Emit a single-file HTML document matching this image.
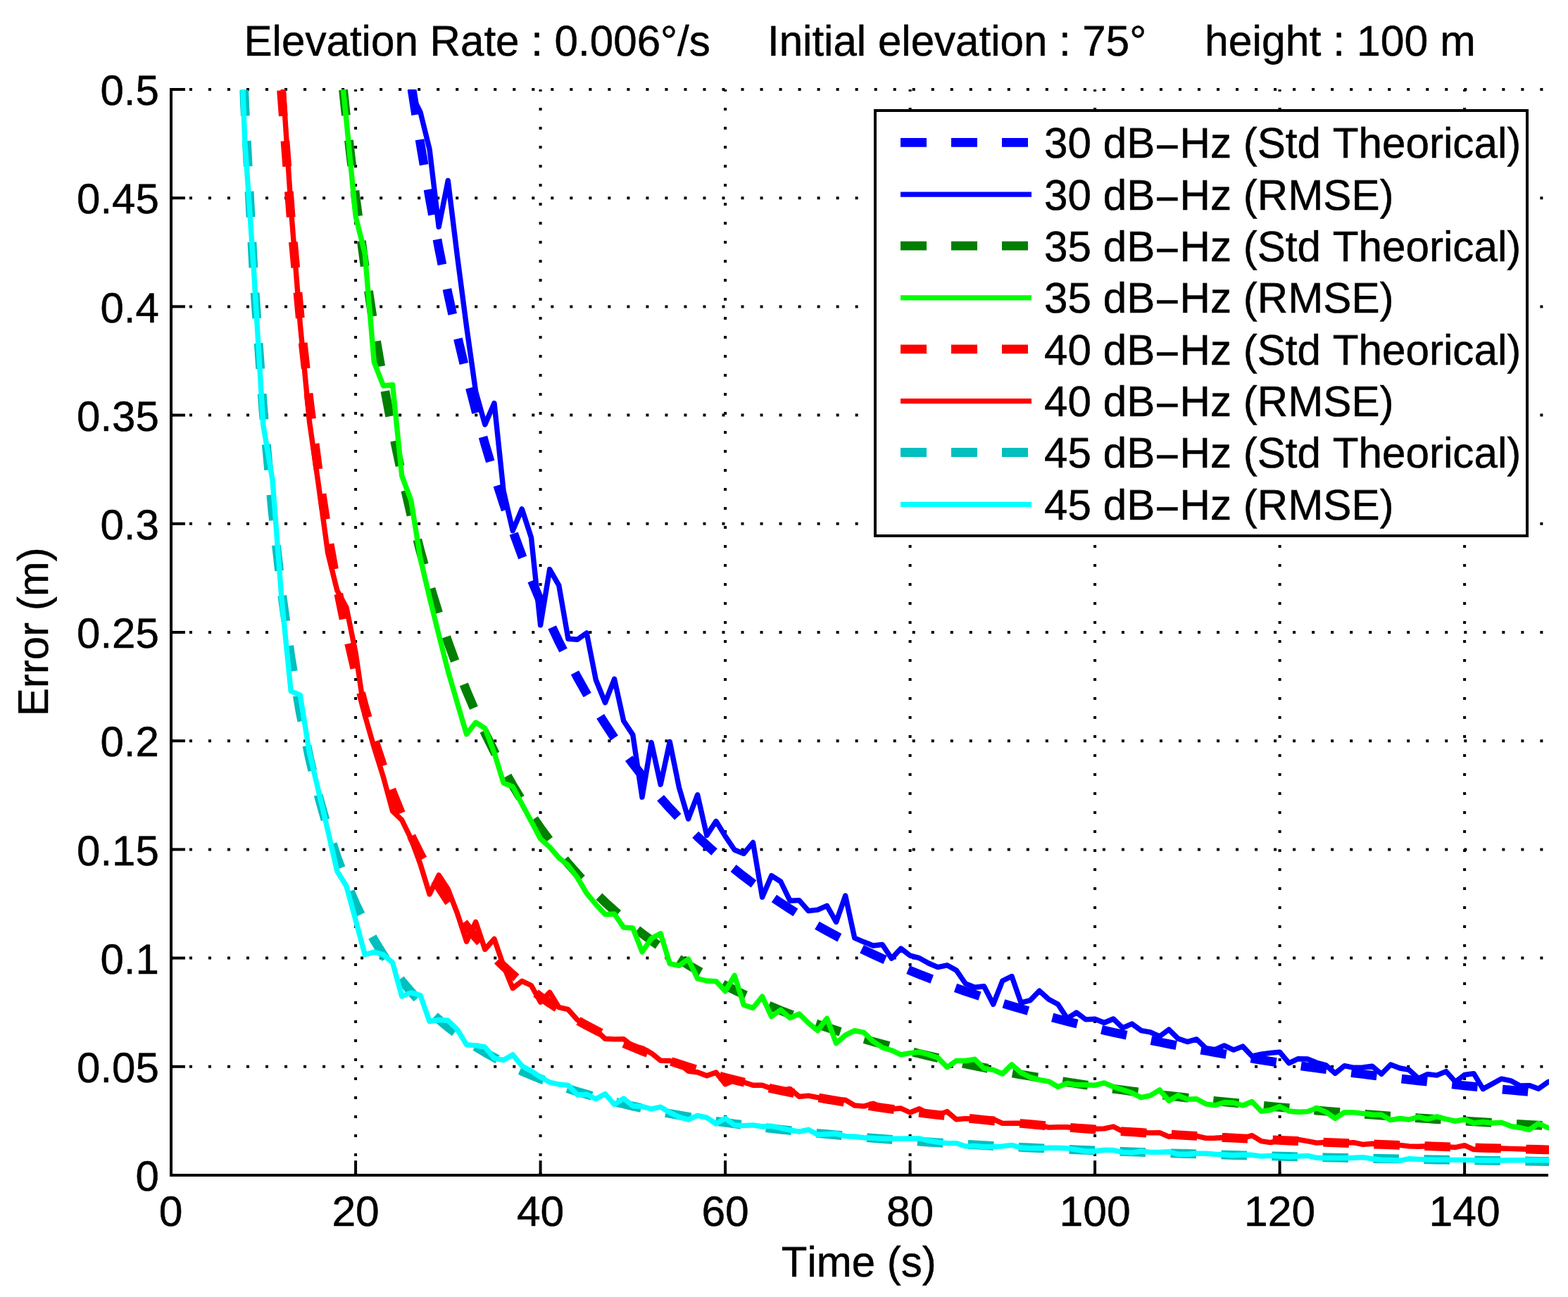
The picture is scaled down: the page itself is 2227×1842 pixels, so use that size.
<!DOCTYPE html>
<html lang="en"><head><meta charset="utf-8">
<title>Elevation Rate : 0.006°/s  Initial elevation : 75°  height : 100 m</title>
<style>
html,body{margin:0;padding:0;background:#fff;}
body{width:2227px;height:1842px;overflow:hidden;}
svg{display:block;}
text{font-family:"Liberation Sans", "DejaVu Sans", sans-serif;font-size:60.00px;fill:#000;stroke:#000;stroke-width:0.5px;stroke-linejoin:round;font-kerning:none;font-variant-ligatures:none;text-rendering:geometricPrecision;}
.ax{stroke:#000;stroke-width:4;fill:none;stroke-linecap:butt;}
.grid{stroke:#000;stroke-width:4;fill:none;stroke-dasharray:4 23;}
.hgrid{stroke-dasharray:4 23.02;}
.th{fill:none;stroke-width:12.8;stroke-dasharray:36.5 35.5;stroke-linejoin:round;}
.rm{fill:none;stroke-width:7.4;stroke-linejoin:round;}
</style></head><body>
<svg width="2227" height="1842" viewBox="0 0 2227 1842">
<rect x="0" y="0" width="2227" height="1842" fill="#fff"/>
<defs><clipPath id="plotclip"><rect x="243.0" y="127.0" width="1957.0" height="1542.0"/></clipPath></defs>
<g class="grid">
<line x1="505.1" y1="1669.0" x2="505.1" y2="127.0" stroke-dashoffset="0.0"/>
<line x1="767.6" y1="1669.0" x2="767.6" y2="127.0" stroke-dashoffset="0.0"/>
<line x1="1030.1" y1="1669.0" x2="1030.1" y2="127.0" stroke-dashoffset="0.0"/>
<line x1="1292.6" y1="1669.0" x2="1292.6" y2="127.0" stroke-dashoffset="0.0"/>
<line x1="1555.1" y1="1669.0" x2="1555.1" y2="127.0" stroke-dashoffset="0.0"/>
<line x1="1817.6" y1="1669.0" x2="1817.6" y2="127.0" stroke-dashoffset="0.0"/>
<line x1="2080.1" y1="1669.0" x2="2080.1" y2="127.0" stroke-dashoffset="0.0"/>
<line class="hgrid" x1="243.0" y1="1514.8" x2="2199.0" y2="1514.8" stroke-dashoffset="1.06"/>
<line class="hgrid" x1="243.0" y1="1360.6" x2="2199.0" y2="1360.6" stroke-dashoffset="1.06"/>
<line class="hgrid" x1="243.0" y1="1206.4" x2="2199.0" y2="1206.4" stroke-dashoffset="1.06"/>
<line class="hgrid" x1="243.0" y1="1052.2" x2="2199.0" y2="1052.2" stroke-dashoffset="1.06"/>
<line class="hgrid" x1="243.0" y1="898.0" x2="2199.0" y2="898.0" stroke-dashoffset="1.06"/>
<line class="hgrid" x1="243.0" y1="743.8" x2="2199.0" y2="743.8" stroke-dashoffset="1.06"/>
<line class="hgrid" x1="243.0" y1="589.6" x2="2199.0" y2="589.6" stroke-dashoffset="1.06"/>
<line class="hgrid" x1="243.0" y1="435.4" x2="2199.0" y2="435.4" stroke-dashoffset="1.06"/>
<line class="hgrid" x1="243.0" y1="281.2" x2="2199.0" y2="281.2" stroke-dashoffset="1.06"/>
<line class="hgrid" x1="243.0" y1="127.0" x2="2199.0" y2="127.0" stroke-dashoffset="1.06"/>
</g>
<g class="ax">
<path d="M243.0,125.0 L243.0,1669.0 L2199.0,1669.0"/>
<line x1="505.1" y1="1669.0" x2="505.1" y2="1648.2"/>
<line x1="767.6" y1="1669.0" x2="767.6" y2="1648.2"/>
<line x1="1030.1" y1="1669.0" x2="1030.1" y2="1648.2"/>
<line x1="1292.6" y1="1669.0" x2="1292.6" y2="1648.2"/>
<line x1="1555.1" y1="1669.0" x2="1555.1" y2="1648.2"/>
<line x1="1817.6" y1="1669.0" x2="1817.6" y2="1648.2"/>
<line x1="2080.1" y1="1669.0" x2="2080.1" y2="1648.2"/>
<line x1="243.0" y1="1514.8" x2="263.0" y2="1514.8"/>
<line x1="243.0" y1="1360.6" x2="263.0" y2="1360.6"/>
<line x1="243.0" y1="1206.4" x2="263.0" y2="1206.4"/>
<line x1="243.0" y1="1052.2" x2="263.0" y2="1052.2"/>
<line x1="243.0" y1="898.0" x2="263.0" y2="898.0"/>
<line x1="243.0" y1="743.8" x2="263.0" y2="743.8"/>
<line x1="243.0" y1="589.6" x2="263.0" y2="589.6"/>
<line x1="243.0" y1="435.4" x2="263.0" y2="435.4"/>
<line x1="243.0" y1="281.2" x2="263.0" y2="281.2"/>
<line x1="243.0" y1="127.0" x2="263.0" y2="127.0"/>
</g>
<g clip-path="url(#plotclip)">
<path class="th" stroke="#0000ff" stroke-dashoffset="0.0" d="M585.1,127.0 L597.0,203.8 L610.1,281.2 L623.2,352.1 L636.3,417.1 L649.5,477.0 L662.6,532.1 L675.7,583.2 L688.8,630.5 L702.0,674.5 L715.1,715.4 L728.2,753.6 L741.3,789.3 L754.5,822.7 L767.6,854.1 L780.7,883.6 L793.8,911.3 L807.0,937.4 L820.1,962.0 L833.2,985.3 L846.3,1007.3 L859.5,1028.2 L872.6,1048.0 L885.7,1066.8 L898.8,1084.6 L912.0,1101.6 L925.1,1117.8 L938.2,1133.2 L951.3,1147.9 L964.5,1161.9 L977.6,1175.3 L990.7,1188.2 L1003.8,1200.4 L1017.0,1212.2 L1030.1,1223.5 L1043.2,1234.3 L1056.3,1244.7 L1069.5,1254.6 L1082.6,1264.2 L1095.7,1273.4 L1108.8,1282.3 L1122.0,1290.9 L1135.1,1299.1 L1148.2,1307.0 L1161.3,1314.7 L1174.5,1322.1 L1187.6,1329.2 L1200.7,1336.1 L1213.8,1342.7 L1227.0,1349.2 L1240.1,1355.4 L1253.2,1361.4 L1266.3,1367.2 L1279.5,1372.9 L1292.6,1378.4 L1305.7,1383.7 L1318.8,1388.8 L1332.0,1393.8 L1345.1,1398.6 L1358.2,1403.3 L1371.3,1407.9 L1384.5,1412.3 L1397.6,1416.6 L1410.7,1420.8 L1423.8,1424.9 L1437.0,1428.9 L1450.1,1432.7 L1463.2,1436.5 L1476.3,1440.1 L1489.5,1443.7 L1502.6,1447.1 L1515.7,1450.5 L1528.8,1453.8 L1542.0,1457.0 L1555.1,1460.1 L1568.2,1463.2 L1581.3,1466.2 L1594.5,1469.1 L1607.6,1471.9 L1620.7,1474.7 L1633.8,1477.4 L1647.0,1480.0 L1660.1,1482.6 L1673.2,1485.1 L1686.3,1487.6 L1699.5,1490.0 L1712.6,1492.3 L1725.7,1494.6 L1738.8,1496.9 L1752.0,1499.1 L1765.1,1501.2 L1778.2,1503.3 L1791.3,1505.4 L1804.5,1507.4 L1817.6,1509.4 L1830.7,1511.4 L1843.8,1513.3 L1857.0,1515.1 L1870.1,1516.9 L1883.2,1518.7 L1896.3,1520.5 L1909.5,1522.2 L1922.6,1523.9 L1935.7,1525.5 L1948.8,1527.2 L1962.0,1528.8 L1975.1,1530.3 L1988.2,1531.9 L2001.3,1533.4 L2014.5,1534.8 L2027.6,1536.3 L2040.7,1537.7 L2053.8,1539.1 L2067.0,1540.5 L2080.1,1541.8 L2093.2,1543.1 L2106.3,1544.4 L2119.5,1545.7 L2132.6,1547.0 L2145.7,1548.2 L2158.8,1549.4 L2172.0,1550.6 L2185.1,1551.8 L2198.2,1552.9 L2211.3,1554.1"/>
<path class="rm" stroke="#0000ff" d="M570.7,34.5 L583.8,133.2 L597.0,159.1 L610.1,212.1 L623.2,322.2 L636.3,256.5 L649.5,363.9 L662.6,463.8 L675.7,556.3 L688.8,602.9 L702.0,572.6 L715.1,697.2 L728.2,753.7 L741.3,722.8 L754.5,763.5 L767.6,887.8 L780.7,808.6 L793.8,831.4 L807.0,907.3 L820.1,908.2 L833.2,898.9 L846.3,965.5 L859.5,997.9 L872.6,964.3 L885.7,1023.8 L898.8,1043.6 L912.0,1132.1 L925.1,1054.4 L938.2,1114.2 L951.3,1053.4 L964.5,1118.5 L977.6,1162.9 L990.7,1128.7 L1003.8,1186.4 L1017.0,1166.3 L1030.1,1187.6 L1043.2,1207.0 L1056.3,1212.3 L1069.5,1196.5 L1082.6,1274.2 L1095.7,1243.7 L1108.8,1252.0 L1122.0,1279.2 L1135.1,1278.6 L1148.2,1293.7 L1161.3,1292.1 L1174.5,1286.3 L1187.6,1309.4 L1200.7,1272.1 L1213.8,1332.2 L1227.0,1337.8 L1240.1,1343.0 L1253.2,1341.5 L1266.3,1361.2 L1279.5,1347.0 L1292.6,1357.2 L1305.7,1360.6 L1318.8,1368.0 L1332.0,1373.6 L1345.1,1370.8 L1358.2,1377.9 L1371.3,1397.0 L1384.5,1402.2 L1397.6,1400.7 L1410.7,1426.3 L1423.8,1393.0 L1437.0,1386.5 L1450.1,1424.1 L1463.2,1420.7 L1476.3,1407.2 L1489.5,1419.2 L1502.6,1426.3 L1515.7,1446.3 L1528.8,1438.0 L1542.0,1447.9 L1555.1,1447.3 L1568.2,1452.5 L1581.3,1447.0 L1594.5,1459.9 L1607.6,1454.0 L1620.7,1463.6 L1633.8,1465.8 L1647.0,1471.9 L1660.1,1462.1 L1673.2,1475.0 L1686.3,1479.6 L1699.5,1475.9 L1712.6,1488.6 L1725.7,1490.7 L1738.8,1484.9 L1752.0,1491.1 L1765.1,1486.1 L1778.2,1500.0 L1791.3,1497.2 L1804.5,1495.4 L1817.6,1494.1 L1830.7,1509.9 L1843.8,1503.7 L1857.0,1504.0 L1870.1,1509.2 L1883.2,1512.9 L1896.3,1524.4 L1909.5,1513.6 L1922.6,1516.3 L1935.7,1516.0 L1948.8,1514.2 L1962.0,1525.3 L1975.1,1512.0 L1988.2,1517.0 L2001.3,1519.4 L2014.5,1531.5 L2027.6,1525.6 L2040.7,1527.1 L2053.8,1521.6 L2067.0,1536.4 L2080.1,1526.5 L2093.2,1524.7 L2106.3,1546.6 L2119.5,1539.2 L2132.6,1532.1 L2145.7,1534.8 L2158.8,1541.9 L2172.0,1541.6 L2185.1,1546.3 L2198.2,1537.0 L2211.3,1531.5"/>
<path class="th" stroke="#007f00" stroke-dashoffset="-0.6" d="M487.5,127.0 L492.0,170.1 L505.1,280.8 L518.2,378.5 L531.3,465.2 L544.5,542.6 L557.6,612.0 L570.7,674.6 L583.8,731.2 L597.0,782.6 L610.1,829.5 L623.2,872.4 L636.3,911.7 L649.5,947.9 L662.6,981.3 L675.7,1012.1 L688.8,1040.8 L702.0,1067.4 L715.1,1092.1 L728.2,1115.2 L741.3,1136.8 L754.5,1157.1 L767.6,1176.0 L780.7,1193.8 L793.8,1210.6 L807.0,1226.4 L820.1,1241.3 L833.2,1255.4 L846.3,1268.7 L859.5,1281.4 L872.6,1293.3 L885.7,1304.7 L898.8,1315.5 L912.0,1325.8 L925.1,1335.5 L938.2,1344.9 L951.3,1353.8 L964.5,1362.2 L977.6,1370.4 L990.7,1378.1 L1003.8,1385.5 L1017.0,1392.7 L1030.1,1399.5 L1043.2,1406.0 L1056.3,1412.3 L1069.5,1418.3 L1082.6,1424.1 L1095.7,1429.7 L1108.8,1435.1 L1122.0,1440.2 L1135.1,1445.2 L1148.2,1450.0 L1161.3,1454.7 L1174.5,1459.1 L1187.6,1463.4 L1200.7,1467.6 L1213.8,1471.6 L1227.0,1475.5 L1240.1,1479.3 L1253.2,1482.9 L1266.3,1486.5 L1279.5,1489.9 L1292.6,1493.2 L1305.7,1496.4 L1318.8,1499.5 L1332.0,1502.5 L1345.1,1505.4 L1358.2,1508.3 L1371.3,1511.0 L1384.5,1513.7 L1397.6,1516.3 L1410.7,1518.9 L1423.8,1521.3 L1437.0,1523.7 L1450.1,1526.1 L1463.2,1528.3 L1476.3,1530.5 L1489.5,1532.7 L1502.6,1534.8 L1515.7,1536.8 L1528.8,1538.8 L1542.0,1540.8 L1555.1,1542.6 L1568.2,1544.5 L1581.3,1546.3 L1594.5,1548.0 L1607.6,1549.8 L1620.7,1551.4 L1633.8,1553.1 L1647.0,1554.7 L1660.1,1556.2 L1673.2,1557.7 L1686.3,1559.2 L1699.5,1560.7 L1712.6,1562.1 L1725.7,1563.5 L1738.8,1564.9 L1752.0,1566.2 L1765.1,1567.5 L1778.2,1568.8 L1791.3,1570.0 L1804.5,1571.3 L1817.6,1572.5 L1830.7,1573.6 L1843.8,1574.8 L1857.0,1575.9 L1870.1,1577.0 L1883.2,1578.1 L1896.3,1579.2 L1909.5,1580.2 L1922.6,1581.2 L1935.7,1582.2 L1948.8,1583.2 L1962.0,1584.2 L1975.1,1585.1 L1988.2,1586.0 L2001.3,1586.9 L2014.5,1587.8 L2027.6,1588.7 L2040.7,1589.6 L2053.8,1590.4 L2067.0,1591.2 L2080.1,1592.1 L2093.2,1592.9 L2106.3,1593.6 L2119.5,1594.4 L2132.6,1595.2 L2145.7,1595.9 L2158.8,1596.7 L2172.0,1597.4 L2185.1,1598.1 L2198.2,1598.8 L2211.3,1599.5"/>
<path class="rm" stroke="#00ff00" d="M478.8,43.7 L492.0,171.4 L505.1,307.1 L518.2,359.8 L531.3,514.4 L544.5,548.0 L557.6,546.4 L570.7,675.6 L583.8,710.8 L597.0,792.8 L610.1,848.7 L623.2,901.4 L636.3,952.9 L649.5,998.5 L662.6,1042.6 L675.7,1026.0 L688.8,1034.3 L702.0,1069.2 L715.1,1112.0 L728.2,1117.3 L741.3,1141.9 L754.5,1166.6 L767.6,1191.3 L780.7,1203.0 L793.8,1218.1 L807.0,1229.2 L820.1,1246.5 L833.2,1268.7 L846.3,1284.4 L859.5,1298.6 L872.6,1298.0 L885.7,1317.1 L898.8,1318.0 L912.0,1352.0 L925.1,1332.8 L938.2,1325.8 L951.3,1368.6 L964.5,1371.4 L977.6,1362.1 L990.7,1389.9 L1003.8,1393.0 L1017.0,1393.6 L1030.1,1407.8 L1043.2,1385.3 L1056.3,1427.2 L1069.5,1431.5 L1082.6,1415.2 L1095.7,1443.6 L1108.8,1434.3 L1122.0,1445.7 L1135.1,1439.9 L1148.2,1452.8 L1161.3,1463.6 L1174.5,1446.3 L1187.6,1481.8 L1200.7,1470.1 L1213.8,1463.6 L1227.0,1466.4 L1240.1,1479.0 L1253.2,1487.7 L1266.3,1491.7 L1279.5,1497.8 L1292.6,1495.7 L1305.7,1494.1 L1318.8,1497.8 L1332.0,1502.2 L1345.1,1515.7 L1358.2,1506.5 L1371.3,1506.5 L1384.5,1504.3 L1397.6,1517.3 L1410.7,1519.4 L1423.8,1525.0 L1437.0,1512.0 L1450.1,1523.4 L1463.2,1529.9 L1476.3,1533.6 L1489.5,1535.8 L1502.6,1543.5 L1515.7,1538.5 L1528.8,1540.7 L1542.0,1540.7 L1555.1,1541.3 L1568.2,1537.9 L1581.3,1543.5 L1594.5,1547.8 L1607.6,1552.1 L1620.7,1558.6 L1633.8,1555.8 L1647.0,1547.8 L1660.1,1563.5 L1673.2,1555.8 L1686.3,1561.1 L1699.5,1560.8 L1712.6,1567.8 L1725.7,1569.7 L1738.8,1565.7 L1752.0,1566.3 L1765.1,1570.0 L1778.2,1564.5 L1791.3,1578.3 L1804.5,1576.5 L1817.6,1571.5 L1830.7,1578.0 L1843.8,1579.3 L1857.0,1578.6 L1870.1,1573.7 L1883.2,1579.3 L1896.3,1588.5 L1909.5,1579.6 L1922.6,1579.9 L1935.7,1581.4 L1948.8,1583.0 L1962.0,1583.3 L1975.1,1590.7 L1988.2,1588.5 L2001.3,1590.0 L2014.5,1586.3 L2027.6,1589.4 L2040.7,1585.7 L2053.8,1589.4 L2067.0,1592.2 L2080.1,1590.0 L2093.2,1595.0 L2106.3,1593.4 L2119.5,1595.0 L2132.6,1594.1 L2145.7,1599.3 L2158.8,1601.5 L2172.0,1604.5 L2185.1,1595.6 L2198.2,1601.5 L2211.3,1602.7"/>
<path class="th" stroke="#ff0000" stroke-dashoffset="-1.4" d="M399.6,127.0 L400.1,135.7 L413.2,308.8 L426.3,451.7 L439.5,571.1 L452.6,672.2 L465.7,758.6 L478.8,833.3 L492.0,898.2 L505.1,955.1 L518.2,1005.3 L531.3,1049.9 L544.5,1089.7 L557.6,1125.4 L570.7,1157.6 L583.8,1186.7 L597.0,1213.2 L610.1,1237.3 L623.2,1259.3 L636.3,1279.6 L649.5,1298.2 L662.6,1315.3 L675.7,1331.2 L688.8,1345.9 L702.0,1359.6 L715.1,1372.3 L728.2,1384.2 L741.3,1395.3 L754.5,1405.7 L767.6,1415.5 L780.7,1424.7 L793.8,1433.3 L807.0,1441.4 L820.1,1449.1 L833.2,1456.3 L846.3,1463.2 L859.5,1469.7 L872.6,1475.8 L885.7,1481.7 L898.8,1487.2 L912.0,1492.5 L925.1,1497.5 L938.2,1502.3 L951.3,1506.9 L964.5,1511.2 L977.6,1515.4 L990.7,1519.4 L1003.8,1523.2 L1017.0,1526.9 L1030.1,1530.4 L1043.2,1533.8 L1056.3,1537.0 L1069.5,1540.1 L1082.6,1543.1 L1095.7,1545.9 L1108.8,1548.7 L1122.0,1551.4 L1135.1,1553.9 L1148.2,1556.4 L1161.3,1558.8 L1174.5,1561.1 L1187.6,1563.3 L1200.7,1565.4 L1213.8,1567.5 L1227.0,1569.5 L1240.1,1571.4 L1253.2,1573.3 L1266.3,1575.1 L1279.5,1576.9 L1292.6,1578.6 L1305.7,1580.2 L1318.8,1581.8 L1332.0,1583.4 L1345.1,1584.9 L1358.2,1586.4 L1371.3,1587.8 L1384.5,1589.2 L1397.6,1590.5 L1410.7,1591.8 L1423.8,1593.1 L1437.0,1594.3 L1450.1,1595.5 L1463.2,1596.7 L1476.3,1597.8 L1489.5,1598.9 L1502.6,1600.0 L1515.7,1601.0 L1528.8,1602.1 L1542.0,1603.0 L1555.1,1604.0 L1568.2,1605.0 L1581.3,1605.9 L1594.5,1606.8 L1607.6,1607.7 L1620.7,1608.5 L1633.8,1609.4 L1647.0,1610.2 L1660.1,1611.0 L1673.2,1611.8 L1686.3,1612.6 L1699.5,1613.3 L1712.6,1614.0 L1725.7,1614.8 L1738.8,1615.5 L1752.0,1616.1 L1765.1,1616.8 L1778.2,1617.5 L1791.3,1618.1 L1804.5,1618.7 L1817.6,1619.4 L1830.7,1620.0 L1843.8,1620.5 L1857.0,1621.1 L1870.1,1621.7 L1883.2,1622.3 L1896.3,1622.8 L1909.5,1623.3 L1922.6,1623.9 L1935.7,1624.4 L1948.8,1624.9 L1962.0,1625.4 L1975.1,1625.9 L1988.2,1626.3 L2001.3,1626.8 L2014.5,1627.3 L2027.6,1627.7 L2040.7,1628.2 L2053.8,1628.6 L2067.0,1629.0 L2080.1,1629.4 L2093.2,1629.8 L2106.3,1630.3 L2119.5,1630.6 L2132.6,1631.0 L2145.7,1631.4 L2158.8,1631.8 L2172.0,1632.2 L2185.1,1632.5 L2198.2,1632.9 L2211.3,1633.2"/>
<path class="rm" stroke="#ff0000" d="M387.0,-119.7 L400.1,94.3 L413.2,294.5 L426.3,460.1 L439.5,598.9 L452.6,690.1 L465.7,785.7 L478.8,838.5 L492.0,862.8 L505.1,927.0 L518.2,1015.8 L531.3,1061.5 L544.5,1103.7 L557.6,1152.1 L570.7,1164.5 L583.8,1191.3 L597.0,1227.1 L610.1,1269.9 L623.2,1242.8 L636.3,1262.8 L649.5,1297.1 L662.6,1337.2 L675.7,1309.4 L688.8,1348.3 L702.0,1333.5 L715.1,1371.4 L728.2,1403.5 L741.3,1393.3 L754.5,1399.5 L767.6,1423.2 L780.7,1409.3 L793.8,1430.6 L807.0,1433.7 L820.1,1448.5 L833.2,1457.1 L846.3,1463.0 L859.5,1475.3 L872.6,1475.9 L885.7,1475.6 L898.8,1485.8 L912.0,1488.6 L925.1,1495.7 L938.2,1506.2 L951.3,1506.5 L964.5,1509.9 L977.6,1521.3 L990.7,1522.8 L1003.8,1527.8 L1017.0,1523.1 L1030.1,1539.8 L1043.2,1533.8 L1056.3,1537.0 L1069.5,1541.3 L1082.6,1541.3 L1095.7,1545.9 L1108.8,1548.7 L1122.0,1546.4 L1135.1,1557.4 L1148.2,1556.1 L1161.3,1558.6 L1174.5,1561.1 L1187.6,1563.3 L1200.7,1562.1 L1213.8,1570.0 L1227.0,1571.1 L1240.1,1567.2 L1253.2,1573.3 L1266.3,1575.1 L1279.5,1574.0 L1292.6,1580.0 L1305.7,1574.7 L1318.8,1581.8 L1332.0,1583.4 L1345.1,1578.6 L1358.2,1589.7 L1371.3,1588.6 L1384.5,1589.2 L1397.6,1590.5 L1410.7,1589.3 L1423.8,1595.4 L1437.0,1595.1 L1450.1,1595.3 L1463.2,1596.7 L1476.3,1597.8 L1489.5,1601.1 L1502.6,1600.8 L1515.7,1600.8 L1528.8,1602.1 L1542.0,1603.0 L1555.1,1603.3 L1568.2,1602.9 L1581.3,1600.0 L1594.5,1606.8 L1607.6,1607.7 L1620.7,1608.5 L1633.8,1608.9 L1647.0,1608.7 L1660.1,1614.3 L1673.2,1611.8 L1686.3,1612.6 L1699.5,1613.3 L1712.6,1616.4 L1725.7,1616.3 L1738.8,1615.5 L1752.0,1616.1 L1765.1,1616.8 L1778.2,1612.6 L1791.3,1620.7 L1804.5,1622.6 L1817.6,1619.4 L1830.7,1620.0 L1843.8,1618.3 L1857.0,1620.6 L1870.1,1623.1 L1883.2,1622.3 L1896.3,1622.8 L1909.5,1623.3 L1922.6,1622.6 L1935.7,1625.4 L1948.8,1624.3 L1962.0,1625.4 L1975.1,1625.9 L1988.2,1626.3 L2001.3,1627.9 L2014.5,1628.3 L2027.6,1627.7 L2040.7,1628.2 L2053.8,1628.6 L2067.0,1629.5 L2080.1,1626.7 L2093.2,1632.6 L2106.3,1630.3 L2119.5,1630.6 L2132.6,1631.0 L2145.7,1631.4 L2158.8,1631.8 L2172.0,1632.2 L2185.1,1632.5 L2198.2,1632.9 L2211.3,1633.2"/>
<path class="th" stroke="#00bfbf" stroke-dashoffset="-1.1" d="M346.7,127.0 L347.6,149.9 L360.7,395.6 L373.8,581.5 L387.0,726.2 L400.1,841.4 L413.2,934.8 L426.3,1011.9 L439.5,1076.4 L452.6,1131.0 L465.7,1177.6 L478.8,1217.9 L492.0,1252.9 L505.1,1283.7 L518.2,1310.8 L531.3,1334.9 L544.5,1356.3 L557.6,1375.6 L570.7,1393.0 L583.8,1408.7 L597.0,1423.0 L610.1,1436.0 L623.2,1447.9 L636.3,1458.8 L649.5,1468.8 L662.6,1478.1 L675.7,1486.7 L688.8,1494.6 L702.0,1502.0 L715.1,1508.9 L728.2,1515.3 L741.3,1521.3 L754.5,1526.9 L767.6,1532.2 L780.7,1537.1 L793.8,1541.8 L807.0,1546.2 L820.1,1550.3 L833.2,1554.2 L846.3,1557.9 L859.5,1561.4 L872.6,1564.7 L885.7,1567.9 L898.8,1570.9 L912.0,1573.7 L925.1,1576.4 L938.2,1579.0 L951.3,1581.5 L964.5,1583.9 L977.6,1586.1 L990.7,1588.3 L1003.8,1590.3 L1017.0,1592.3 L1030.1,1594.2 L1043.2,1596.0 L1056.3,1597.7 L1069.5,1599.4 L1082.6,1601.0 L1095.7,1602.6 L1108.8,1604.1 L1122.0,1605.5 L1135.1,1606.9 L1148.2,1608.2 L1161.3,1609.5 L1174.5,1610.7 L1187.6,1611.9 L1200.7,1613.1 L1213.8,1614.2 L1227.0,1615.3 L1240.1,1616.3 L1253.2,1617.4 L1266.3,1618.3 L1279.5,1619.3 L1292.6,1620.2 L1305.7,1621.1 L1318.8,1622.0 L1332.0,1622.8 L1345.1,1623.6 L1358.2,1624.4 L1371.3,1625.2 L1384.5,1625.9 L1397.6,1626.6 L1410.7,1627.3 L1423.8,1628.0 L1437.0,1628.7 L1450.1,1629.3 L1463.2,1630.0 L1476.3,1630.6 L1489.5,1631.2 L1502.6,1631.7 L1515.7,1632.3 L1528.8,1632.9 L1542.0,1633.4 L1555.1,1633.9 L1568.2,1634.4 L1581.3,1634.9 L1594.5,1635.4 L1607.6,1635.9 L1620.7,1636.4 L1633.8,1636.8 L1647.0,1637.3 L1660.1,1637.7 L1673.2,1638.1 L1686.3,1638.5 L1699.5,1638.9 L1712.6,1639.3 L1725.7,1639.7 L1738.8,1640.1 L1752.0,1640.5 L1765.1,1640.8 L1778.2,1641.2 L1791.3,1641.5 L1804.5,1641.9 L1817.6,1642.2 L1830.7,1642.5 L1843.8,1642.8 L1857.0,1643.2 L1870.1,1643.5 L1883.2,1643.8 L1896.3,1644.1 L1909.5,1644.4 L1922.6,1644.6 L1935.7,1644.9 L1948.8,1645.2 L1962.0,1645.5 L1975.1,1645.7 L1988.2,1646.0 L2001.3,1646.2 L2014.5,1646.5 L2027.6,1646.7 L2040.7,1647.0 L2053.8,1647.2 L2067.0,1647.4 L2080.1,1647.6 L2093.2,1647.9 L2106.3,1648.1 L2119.5,1648.3 L2132.6,1648.5 L2145.7,1648.7 L2158.8,1648.9 L2172.0,1649.1 L2185.1,1649.3 L2198.2,1649.5 L2211.3,1649.7"/>
<path class="rm" stroke="#00ffff" d="M334.5,-147.5 L347.6,197.6 L360.7,387.3 L373.8,603.5 L387.0,681.5 L400.1,851.7 L413.2,981.6 L426.3,987.1 L439.5,1069.2 L452.6,1124.4 L465.7,1179.9 L478.8,1237.2 L492.0,1258.5 L505.1,1306.6 L518.2,1355.7 L531.3,1352.1 L544.5,1355.7 L557.6,1367.1 L570.7,1414.9 L583.8,1409.9 L597.0,1413.6 L610.1,1450.7 L623.2,1448.5 L636.3,1449.3 L649.5,1462.1 L662.6,1483.7 L675.7,1484.9 L688.8,1487.0 L702.0,1502.8 L715.1,1505.7 L728.2,1497.8 L741.3,1513.9 L754.5,1521.0 L767.6,1529.6 L780.7,1537.1 L793.8,1540.0 L807.0,1541.4 L820.1,1555.0 L833.2,1554.3 L846.3,1560.7 L859.5,1553.6 L872.6,1568.6 L885.7,1560.0 L898.8,1570.7 L912.0,1571.4 L925.1,1575.0 L938.2,1572.1 L951.3,1580.0 L964.5,1586.4 L977.6,1590.0 L990.7,1584.3 L1003.8,1587.1 L1017.0,1596.1 L1030.1,1588.2 L1043.2,1597.9 L1056.3,1598.6 L1069.5,1597.9 L1082.6,1600.0 L1095.7,1599.3 L1108.8,1602.1 L1122.0,1605.0 L1135.1,1607.1 L1148.2,1604.3 L1161.3,1611.4 L1174.5,1610.7 L1187.6,1610.0 L1200.7,1613.6 L1213.8,1614.3 L1227.0,1615.7 L1240.1,1616.4 L1253.2,1617.1 L1266.3,1617.1 L1279.5,1617.1 L1292.6,1617.0 L1305.7,1616.9 L1318.8,1620.0 L1332.0,1622.1 L1345.1,1623.6 L1358.2,1623.6 L1371.3,1627.9 L1384.5,1627.4 L1397.6,1628.6 L1410.7,1628.6 L1423.8,1627.9 L1437.0,1626.4 L1450.1,1630.0 L1463.2,1630.7 L1476.3,1630.7 L1489.5,1630.3 L1502.6,1630.3 L1515.7,1630.7 L1528.8,1632.9 L1542.0,1635.0 L1555.1,1635.0 L1568.2,1633.1 L1581.3,1633.5 L1594.5,1636.4 L1607.6,1637.1 L1620.7,1635.0 L1633.8,1636.4 L1647.0,1636.4 L1660.1,1635.7 L1673.2,1639.3 L1686.3,1639.3 L1699.5,1638.3 L1712.6,1638.3 L1725.7,1639.3 L1738.8,1640.0 L1752.0,1640.7 L1765.1,1640.0 L1778.2,1640.3 L1791.3,1642.1 L1804.5,1641.4 L1817.6,1642.1 L1830.7,1642.8 L1843.8,1642.1 L1857.0,1641.4 L1870.1,1644.3 L1883.2,1644.6 L1896.3,1644.6 L1909.5,1644.6 L1922.6,1644.3 L1935.7,1643.6 L1948.8,1645.7 L1962.0,1647.1 L1975.1,1647.4 L1988.2,1648.3 L2001.3,1645.7 L2014.5,1646.4 L2027.6,1646.9 L2040.7,1647.1 L2053.8,1647.1 L2067.0,1647.4 L2080.1,1647.4 L2093.2,1647.7 L2106.3,1648.0 L2119.5,1648.0 L2132.6,1648.0 L2145.7,1647.7 L2158.8,1647.7 L2172.0,1647.7 L2185.1,1647.7 L2198.2,1647.7 L2211.3,1647.7"/>
</g>
<text transform="translate(225.8,1691.1) scale(1,1)" text-anchor="end">0</text>
<text transform="translate(225.8,1536.9) scale(1,1)" text-anchor="end">0.05</text>
<text transform="translate(225.8,1382.7) scale(1,1)" text-anchor="end">0.1</text>
<text transform="translate(225.8,1228.5) scale(1,1)" text-anchor="end">0.15</text>
<text transform="translate(225.8,1074.3) scale(1,1)" text-anchor="end">0.2</text>
<text transform="translate(225.8,920.1) scale(1,1)" text-anchor="end">0.25</text>
<text transform="translate(225.8,765.9) scale(1,1)" text-anchor="end">0.3</text>
<text transform="translate(225.8,611.7) scale(1,1)" text-anchor="end">0.35</text>
<text transform="translate(225.8,457.5) scale(1,1)" text-anchor="end">0.4</text>
<text transform="translate(225.8,303.3) scale(1,1)" text-anchor="end">0.45</text>
<text transform="translate(225.8,149.1) scale(1,1)" text-anchor="end">0.5</text>
<text transform="translate(242.6,1741.3) scale(1.01,1)" text-anchor="middle">0</text>
<text transform="translate(505.1,1741.3) scale(1.01,1)" text-anchor="middle">20</text>
<text transform="translate(767.6,1741.3) scale(1.01,1)" text-anchor="middle">40</text>
<text transform="translate(1030.1,1741.3) scale(1.01,1)" text-anchor="middle">60</text>
<text transform="translate(1292.6,1741.3) scale(1.01,1)" text-anchor="middle">80</text>
<text transform="translate(1555.1,1741.3) scale(1.01,1)" text-anchor="middle">100</text>
<text transform="translate(1817.6,1741.3) scale(1.01,1)" text-anchor="middle">120</text>
<text transform="translate(2080.1,1741.3) scale(1.01,1)" text-anchor="middle">140</text>
<text transform="translate(1219.8,1813.0) scale(1,1.015)" text-anchor="middle">Time (s)</text>
<text transform="translate(68.2,897.3) rotate(-90) scale(1,1.015)" text-anchor="middle">Error (m)</text>
<text transform="translate(346.5,79.0) scale(1.002,1.015)">Elevation Rate : 0.006°/s</text>
<text transform="translate(1090.0,79.0) scale(1.001,1.015)">Initial elevation : 75°</text>
<text transform="translate(1711.0,79.0) scale(1.012,1.015)">height : 100 m</text>
<rect x="1243.0" y="157.0" width="926.0" height="604.0" fill="#fff" stroke="#000" stroke-width="4"/>
<line x1="1279.0" y1="202.4" x2="1465.0" y2="202.4" stroke="#0000ff" stroke-width="12.8" stroke-dasharray="37 35"/>
<text transform="translate(1483.0,224.2) scale(1.003,1.015)">30 dB<tspan dy="5.1">−</tspan><tspan dy="-5.1">Hz (Std Theorical)</tspan></text>
<line x1="1279.0" y1="276.2" x2="1465.0" y2="276.2" stroke="#0000ff" stroke-width="7.2"/>
<text transform="translate(1483.0,297.6) scale(1.003,1.015)">30 dB<tspan dy="5.1">−</tspan><tspan dy="-5.1">Hz (RMSE)</tspan></text>
<line x1="1279.0" y1="349.1" x2="1465.0" y2="349.1" stroke="#007f00" stroke-width="12.8" stroke-dasharray="37 35"/>
<text transform="translate(1483.0,370.9) scale(1.003,1.015)">35 dB<tspan dy="5.1">−</tspan><tspan dy="-5.1">Hz (Std Theorical)</tspan></text>
<line x1="1279.0" y1="422.9" x2="1465.0" y2="422.9" stroke="#00ff00" stroke-width="7.2"/>
<text transform="translate(1483.0,444.2) scale(1.003,1.015)">35 dB<tspan dy="5.1">−</tspan><tspan dy="-5.1">Hz (RMSE)</tspan></text>
<line x1="1279.0" y1="495.8" x2="1465.0" y2="495.8" stroke="#ff0000" stroke-width="12.8" stroke-dasharray="37 35"/>
<text transform="translate(1483.0,517.6) scale(1.003,1.015)">40 dB<tspan dy="5.1">−</tspan><tspan dy="-5.1">Hz (Std Theorical)</tspan></text>
<line x1="1279.0" y1="569.6" x2="1465.0" y2="569.6" stroke="#ff0000" stroke-width="7.2"/>
<text transform="translate(1483.0,590.9) scale(1.003,1.015)">40 dB<tspan dy="5.1">−</tspan><tspan dy="-5.1">Hz (RMSE)</tspan></text>
<line x1="1279.0" y1="642.5" x2="1465.0" y2="642.5" stroke="#00bfbf" stroke-width="12.8" stroke-dasharray="37 35"/>
<text transform="translate(1483.0,664.3) scale(1.003,1.015)">45 dB<tspan dy="5.1">−</tspan><tspan dy="-5.1">Hz (Std Theorical)</tspan></text>
<line x1="1279.0" y1="716.3" x2="1465.0" y2="716.3" stroke="#00ffff" stroke-width="7.2"/>
<text transform="translate(1483.0,737.6) scale(1.003,1.015)">45 dB<tspan dy="5.1">−</tspan><tspan dy="-5.1">Hz (RMSE)</tspan></text>
</svg>
</body></html>
